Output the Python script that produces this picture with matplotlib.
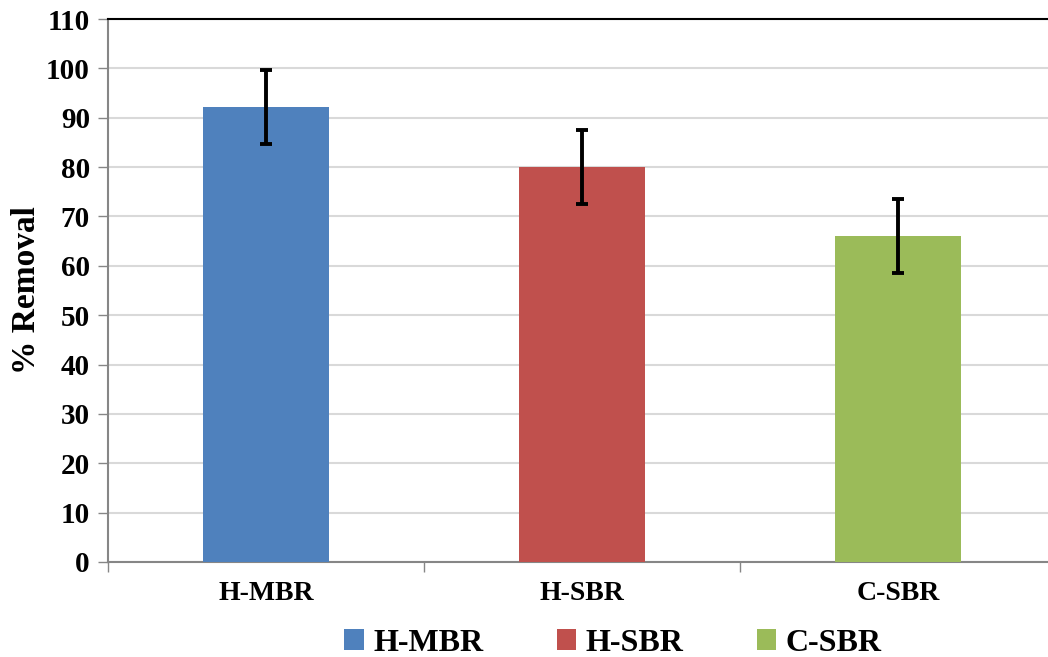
import matplotlib.pyplot as plt
from matplotlib.patches import Patch

# data
kategorije = ["H-MBR", "H-SBR", "C-SBR"]
uklanjanje = [92.1, 80.0, 66.1]
greska = [7.5, 7.5, 7.5]
boje = ["#4F81BD", "#C0504D", "#9BBB59"]
y_tickovi = list(range(0, 111, 10))

plt.rcParams['font.family'] = ['Liberation Serif', 'DejaVu Serif']
plt.rcParams['font.weight'] = 'bold'

fig = plt.figure(figsize=(10.48, 6.57), dpi=100)
ax = fig.add_axes([108 / 1048, 95 / 657, 948 / 1048, 543 / 657])

x = list(range(len(kategorije)))
ax.bar(x, uklanjanje, width=0.40, color=boje, zorder=3)
ax.errorbar(x, uklanjanje, yerr=greska, fmt="none", ecolor="black",
            elinewidth=2.8, capsize=4.5, capthick=2.8, zorder=4)

ax.set_xlim(-0.5, 2.5)
ax.set_ylim(0, 110)
ax.set_yticks(y_tickovi)
ax.set_yticklabels([str(t) for t in y_tickovi], fontsize=21, fontweight="bold")
ax.set_xticks(x)
ax.set_xticklabels(kategorije, fontsize=20, fontweight="bold")
ax.tick_params(axis="x", which="major", length=0, pad=14)
ax.set_xticks([-0.5, 0.5, 1.5, 2.5], minor=True)
ax.tick_params(axis="x", which="minor", length=7, color="#868686", width=1)
ax.tick_params(axis="y", length=7, color="#868686", width=1, pad=6)

ax.grid(axis="y", color="#D9D9D9", linewidth=1.5, zorder=0)
ax.set_axisbelow(True)
ax.spines["left"].set_color("#868686")
ax.spines["left"].set_linewidth(1.5)
ax.spines["bottom"].set_color("#868686")
ax.spines["bottom"].set_linewidth(1.5)
ax.spines["top"].set_color("black")
ax.spines["top"].set_linewidth(1.5)
ax.spines["right"].set_visible(False)

ax.set_ylabel("% Removal", fontsize=24, fontweight="bold", labelpad=3)

rucke = [Patch(facecolor=b, label=k) for k, b in zip(kategorije, boje)]
fig.legend(handles=rucke, loc="lower center", bbox_to_anchor=(0.585, -0.045),
           ncol=3, frameon=False, prop={"weight": "bold", "size": 23},
           handlelength=0.6, handleheight=0.6, handletextpad=0.3, columnspacing=2.3)

fig.savefig("out.png", dpi=100)
